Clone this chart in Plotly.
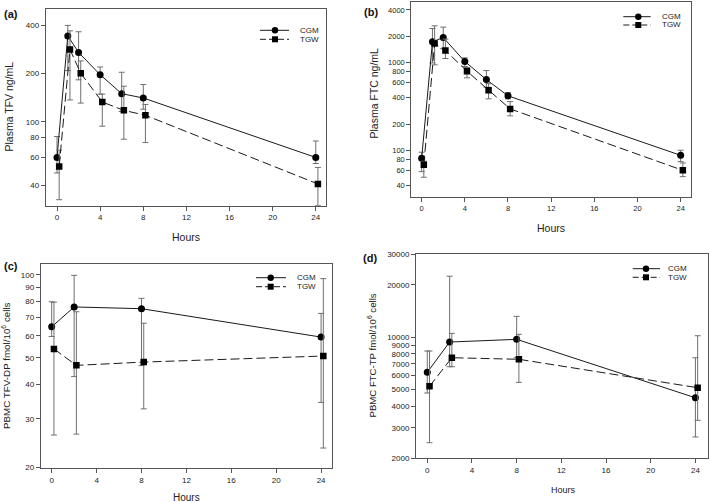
import plotly.graph_objects as go
import math

# ---------------- data ----------------
hours_plasma = [0, 1, 2, 4, 6, 8, 24]
hours_pbmc = [0, 2, 8, 24]
x_ticks = [0, 4, 8, 12, 16, 20, 24]

# (a) Plasma TFV ng/mL
a_cgm = [60, 344, 271, 197, 150, 141, 60]
a_cgm_hi = [81, 400, 365, 220, 204, 171, 76]
a_cgm_lo = [48, 209, 183, 149, 116, 120, 55]
a_tgw = [52.7, 283, 201, 133, 118, 110, 41]
a_tgw_hi = [66.6, 370, 240, 149, 167, 128.5, 52]
a_tgw_lo = [32.7, 137, 131, 94, 78, 74.3, 30.1]
a_ticks = [40, 60, 80, 100, 200, 400]

# (b) Plasma FTC ng/mL
b_cgm = [82, 1734, 1944, 1035, 644, 421, 88.5]
b_cgm_hi = [96, 2460, 2550, 1140, 817, 458, 101]
b_cgm_lo = [57.7, 996, 1450, 907, 528, 389, 75]
b_tgw = [69.2, 1660, 1381, 803, 489, 299, 59.7]
b_tgw_hi = [75.7, 2640, 1862, 885, 580, 362, 72.4]
b_tgw_lo = [49.8, 949, 1120, 675, 389, 249, 50.6]
b_ticks = [40, 60, 80, 100, 200, 400, 600, 800, 1000, 2000, 4000]

# (c) PBMC TFV-DP fmol/10^6 cells
c_cgm = [64.7, 76.4, 75.3, 59.4]
c_cgm_hi = [79.8, 99.5, 82.1, 72.4]
c_cgm_lo = [59.7, 42.7, 46.8, 34.4]
c_tgw = [53.8, 46.9, 48.2, 50.7]
c_tgw_hi = [79.5, 73.4, 66.7, 96.8]
c_tgw_lo = [26.2, 26.4, 32.6, 23.5]
c_ticks = [20, 30, 40, 50, 60, 70, 80, 90, 100]

# (d) PBMC FTC-TP fmol/10^6 cells
d_cgm = [6263, 9360, 9700, 4468]
d_cgm_hi = [8309, 22430, 13160, 7600]
d_cgm_lo = [4757, 6746, 7600, 2655]
d_tgw = [5200, 7600, 7445, 5105]
d_tgw_hi = [8309, 10500, 10370, 10180]
d_tgw_lo = [2460, 6746, 5480, 3311]
d_ticks = [2000, 3000, 4000, 5000, 6000, 7000, 8000, 9000, 10000, 20000, 30000]

series_names = ["CGM", "TGW"]
panel_labels = ["(a)", "(b)", "(c)", "(d)"]
y_titles = ["Plasma TFV ng/mL", "Plasma FTC ng/mL",
            "PBMC TFV-DP fmol/10<sup>6</sup> cells",
            "PBMC FTC-TP fmol/10<sup>6</sup> cells"]
x_title = "Hours"

# ---------------- layout constants ----------------
W, H = 709, 502
FONT = "Liberation Sans, Arial, sans-serif"
TGW_OFFSET = 0.2


def fx(px):
    return px / W


def fy(py):
    return 1 - py / H


panels = [
    dict(hours=hours_plasma, cgm=(a_cgm, a_cgm_hi, a_cgm_lo), tgw=(a_tgw, a_tgw_hi, a_tgw_lo),
         ticks=a_ticks, box=(45.7, 326, 9.3, 205.7), xr=[-1.05, 24.95], yr=[30, 504],
         tfs=8, hours_pos=(186, 237, 10.5), ytitle_pos=(8.5, 107, 10.5),
         label_pos=(2, 14), legend=(260, 289, 275, 298, 30.3, 39.3)),
    dict(hours=hours_plasma, cgm=(b_cgm, b_cgm_hi, b_cgm_lo), tgw=(b_tgw, b_tgw_hi, b_tgw_lo),
         ticks=b_ticks, box=(411.3, 690.7, 2, 196.7), xr=[-0.96, 24.93], yr=[29.9, 4930],
         tfs=7.5, hours_pos=(551, 228, 10.5), ytitle_pos=(373.5, 93, 10.5),
         label_pos=(362, 12.5), legend=(623.3, 650.7, 638.3, 659.7, 16.7, 25)),
    dict(hours=hours_pbmc, cgm=(c_cgm, c_cgm_hi, c_cgm_lo), tgw=(c_tgw, c_tgw_hi, c_tgw_lo),
         ticks=c_ticks, box=(40.7, 332.3, 264, 468.3), xr=[-0.98, 25.0], yr=[19.84, 109.4],
         tfs=8, hours_pos=(187, 497, 10), ytitle_pos=(6, 366, 9.8),
         label_pos=(2, 266), legend=(256, 286, 270.7, 295, 277.7, 286.7)),
    dict(hours=hours_pbmc, cgm=(d_cgm, d_cgm_hi, d_cgm_lo), tgw=(d_tgw, d_tgw_hi, d_tgw_lo),
         ticks=d_ticks, box=(416, 707.7, 254.3, 458.3), xr=[-1.01, 25.1], yr=[2000, 30000],
         tfs=8, hours_pos=(563, 489.5, 9), ytitle_pos=(371.5, 356, 9.6),
         label_pos=(361, 257.5), legend=(632.7, 660, 646, 666.3, 268.7, 277.3)),
]

LINE_COL = "#1a1a1a"
ERR_COL = "#6f6f6f"
AXIS_COL = "#555555"
TEXT_COL = "#222222"

fig = go.Figure()
shapes = []
annotations = []
layout = {}

for i, p in enumerate(panels, start=1):
    xa, ya = f"x{i}", f"y{i}"
    for k, (name, key) in enumerate(zip(series_names, ["cgm", "tgw"])):
        v, hi, lo = p[key]
        xs = [h + (TGW_OFFSET if k == 1 else 0) for h in p["hours"]]
        fig.add_trace(go.Scatter(
            x=xs, y=v, name=name, mode="lines+markers", xaxis=xa, yaxis=ya,
            showlegend=False,
            line=dict(color=LINE_COL, width=1, dash="solid" if k == 0 else "9px,4px"),
            marker=dict(symbol="circle" if k == 0 else "square", size=7 if k == 0 else 6.5,
                        color="#000000"),
            error_y=dict(type="data", symmetric=False,
                         array=[a - b for a, b in zip(hi, v)],
                         arrayminus=[b - c for b, c in zip(v, lo)],
                         color=ERR_COL, thickness=1, width=3),
        ))

    l, r, t, b = p["box"]
    ylog = [math.log10(p["yr"][0]), math.log10(p["yr"][1])]
    layout[f"xaxis{i}"] = dict(
        domain=[fx(l), fx(r)], anchor=ya, range=p["xr"], tickvals=x_ticks,
        ticks="outside", ticklen=4, tickcolor=AXIS_COL, showline=True, linecolor=AXIS_COL,
        linewidth=1, mirror=True, showgrid=False, zeroline=False,
        tickfont=dict(family=FONT, size=p["tfs"], color=TEXT_COL), automargin=False)
    layout[f"yaxis{i}"] = dict(
        domain=[fy(b), fy(t)], anchor=xa, type="log", range=ylog,
        tickvals=p["ticks"], ticktext=[str(tv) for tv in p["ticks"]],
        ticks="outside", ticklen=4, tickcolor=AXIS_COL, showline=True, linecolor=AXIS_COL,
        linewidth=1, mirror=True, showgrid=False, zeroline=False,
        tickfont=dict(family=FONT, size=p["tfs"], color=TEXT_COL), automargin=False)
    # right-side inside ticks
    layout[f"yaxis{i + 4}"] = dict(
        overlaying=ya, anchor=xa, side="right", type="log", range=ylog,
        tickvals=p["ticks"], showticklabels=False, ticks="inside", ticklen=3,
        tickcolor=AXIS_COL, showline=False, showgrid=False, zeroline=False)

    # axis titles and panel label
    hx, hy, hs = p["hours_pos"]
    annotations.append(dict(text=x_title, x=fx(hx), y=fy(hy), xref="paper", yref="paper",
                            showarrow=False, xanchor="center", yanchor="middle",
                            font=dict(family=FONT, size=hs, color=TEXT_COL)))
    tx, ty, ts = p["ytitle_pos"]
    annotations.append(dict(text=y_titles[i - 1], x=fx(tx), y=fy(ty), xref="paper", yref="paper",
                            showarrow=False, textangle=-90, xanchor="center", yanchor="middle",
                            font=dict(family=FONT, size=ts, color=TEXT_COL)))
    lx, ly = p["label_pos"]
    annotations.append(dict(text=f"<b>{panel_labels[i - 1]}</b>", x=fx(lx), y=fy(ly),
                            xref="paper", yref="paper", showarrow=False,
                            xanchor="left", yanchor="middle",
                            font=dict(family=FONT, size=11, color="#111111")))

    # legend (drawn in figure pixel space)
    x0, x1, mx, txx, yc, yt = p["legend"]
    for k, yy in enumerate([yc, yt]):
        shapes.append(dict(type="line", xref="paper", yref="paper",
                           x0=fx(x0), x1=fx(x1), y0=fy(yy), y1=fy(yy),
                           line=dict(color=LINE_COL, width=1,
                                     dash="solid" if k == 0 else "6px,3px")))
        s = 3.2 if k == 0 else 3
        shapes.append(dict(type="circle" if k == 0 else "rect", xref="paper", yref="paper",
                           x0=fx(mx - s), x1=fx(mx + s), y0=fy(yy + s), y1=fy(yy - s),
                           fillcolor="#000000", line=dict(width=0)))
        annotations.append(dict(text=series_names[k], x=fx(txx), y=fy(yy), xref="paper",
                                yref="paper", showarrow=False, xanchor="left",
                                yanchor="middle",
                                font=dict(family=FONT, size=8, color=TEXT_COL)))

fig.update_layout(
    width=W, height=H, margin=dict(l=0, r=0, t=0, b=0),
    paper_bgcolor="white", plot_bgcolor="white",
    font=dict(family=FONT, color=TEXT_COL),
    showlegend=False, shapes=shapes, annotations=annotations, **layout)

fig.write_html("out.html",
               config={"displayModeBar": False},
               post_script="document.body.style.margin='0px';document.body.style.overflow='hidden';")
